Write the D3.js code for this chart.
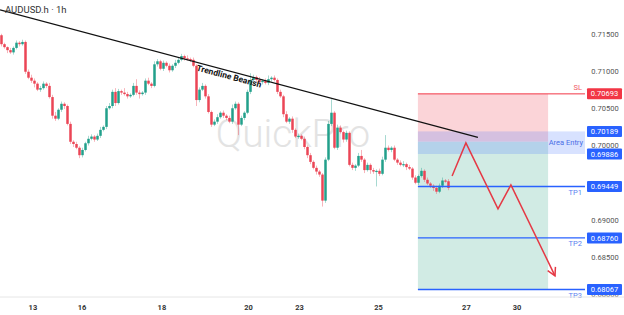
<!DOCTYPE html>
<html>
<head>
<meta charset="utf-8">
<script src="https://cdn.jsdelivr.net/npm/d3@7"></script>
<style>
  body { margin: 0; background: #fff; }
  svg { display: block; font-family: Roboto, "Noto Sans", sans-serif; }
</style>
</head>
<body>
<script>
// hourly candles, open = previous close
const firstOpen = 0.7148
const closes = [
  0.7136, 0.7132, 0.7128, 0.7125, 0.7131, 0.7138, 0.7136, 0.7139, 0.7099, 0.7091,
  0.7087, 0.7083, 0.7075, 0.7077, 0.7083, 0.7080, 0.7065, 0.7040, 0.7036, 0.7048,
  0.7056, 0.7053, 0.7029, 0.7005, 0.7002, 0.6997, 0.6987, 0.6994, 0.7003, 0.7009,
  0.7012, 0.7008, 0.7013, 0.7021, 0.7025, 0.7050, 0.7053, 0.7072, 0.7057, 0.7073,
  0.7071, 0.7069, 0.7066, 0.7068, 0.7080, 0.7071, 0.7069, 0.7071, 0.7087, 0.7083,
  0.7080, 0.7109, 0.7113, 0.7103, 0.7111, 0.7107, 0.7101, 0.7107, 0.7111, 0.7115,
  0.7120, 0.7117, 0.7116, 0.7115, 0.7107, 0.7061, 0.7075, 0.7080, 0.7066, 0.7045,
  0.7028, 0.7032, 0.7038, 0.7044, 0.7040, 0.7037, 0.7032, 0.7050, 0.7056, 0.7028,
  0.7037, 0.7044, 0.7072, 0.7088, 0.7092, 0.7088, 0.7085, 0.7087, 0.7084, 0.7089,
  0.7091, 0.7088, 0.7072, 0.7066, 0.7042, 0.7032, 0.7036, 0.7021, 0.7012, 0.7013,
  0.7009, 0.6998, 0.6987, 0.6978, 0.6970, 0.6965, 0.6961, 0.6926, 0.6981, 0.7029,
  0.7044, 0.6997, 0.7024, 0.7018, 0.7008, 0.7017, 0.6974, 0.6970, 0.6973, 0.6986,
  0.6981, 0.6967, 0.6974, 0.6967, 0.6965, 0.6966, 0.6962, 0.6981, 0.6997, 0.6994,
  0.6997, 0.6981, 0.6977, 0.6974, 0.6975, 0.6971, 0.6969, 0.6957, 0.6950, 0.6959,
  0.6966, 0.6954, 0.6949, 0.6946, 0.6943, 0.6938, 0.6946, 0.6953, 0.6952, 0.6943
]
// wick lengths beyond the body, in units of 0.0001
const wickUp = [
  2, 2, 1, 3, 2, 3, 2, 3, 2, 3,   4, 3, 2, 3, 3, 2, 4, 3, 5, 2,
  3, 2, 2, 3, 2, 3, 2, 3, 2, 4,   3, 2, 3, 4, 2, 3, 4, 3, 5, 3,
  2, 6, 3, 2, 4, 9, 3, 2, 3, 4,   2, 4, 3, 2, 3, 2, 3, 2, 4, 3,
  3, 2, 4, 2, 3, 2, 3, 4, 2, 3,   2, 3, 4, 2, 3, 2, 3, 5, 3, 2,
  3, 2, 3, 9, 3, 2, 4, 2, 3, 5,   2, 3, 2, 3, 2, 4, 2, 3, 2, 3,
  2, 3, 2, 3, 2, 3, 2, 2, 3, 4,  18, 2, 4, 3, 2, 3, 2, 3, 2, 4,
  8, 2, 3, 2, 3, 2, 3, 4, 17, 3,  2, 3, 2, 3, 4, 2, 3, 2, 3, 2,
  4, 2, 3, 2, 2, 3, 3, 4, 2, 3
]
const wickDn = [
  3, 2, 4, 2, 3, 2, 3, 2, 3, 2,   3, 5, 2, 3, 2, 3, 2, 4, 3, 2,
  3, 4, 2, 3, 4, 2, 4, 3, 2, 3,   2, 3, 2, 3, 2, 3, 2, 3, 4, 2,
  3, 2, 3, 2, 2, 3, 6, 2, 3, 2,   3, 2, 3, 2, 3, 2, 3, 2, 3, 2,
  2, 3, 2, 3, 2, 8, 3, 2, 3, 2,   3, 2, 3, 2, 3, 3, 2, 3, 2, 14,
  2, 3, 2, 3, 2, 3, 2, 3, 2, 3,   3, 2, 3, 2, 4, 2, 3, 4, 2, 3,
  2, 3, 4, 3, 2, 4, 3, 8, 3, 2,   3, 2, 3, 2, 4, 3, 2, 3, 4, 2,
  3, 4, 2, 5, 3, 20, 3, 2, 3, 2,  3, 2, 3, 2, 3, 4, 2, 3, 2, 3,
  2, 3, 2, 3, 4, 3, 2, 3, 2, 3
]

const dayLabels = ['13', '16', '18', '20', '23', '25', '27', '30']
const dayIndex = [10.3, 26.7, 53.3, 82.2, 99.2, 125.5, 154.8, 171.7]
const priceTicks = [0.715, 0.71, 0.705, 0.70, 0.695, 0.69, 0.685, 0.68]

// trade setup
const levelNames = ['SL', 'TP1', 'TP2', 'TP3']
const levelPrices = [0.70693, 0.69449, 0.68760, 0.68067]
const entryBand = [0.70189, 0.69886]
const entryPrice = 0.7005
const zoneIdx = [138.8, 182.2, 194.5]   // zone start, zone end, line end

const trendIdx = [-0.5, 158.8]
const trendPx = [0.7182, 0.7011]
const pathIdx = [150.2, 154.8, 165.5, 169.8, 184.5]
const pathPx = [0.6959, 0.70035, 0.6915, 0.6947, 0.6825]

const W = 624, H = 315
const up = '#22a08b', down = '#eb4556', blue = '#2962ff', red = '#f23645'

const x = d3.scaleLinear().domain([-0.5, 207.5]).range([0, W])
const y = d3.scaleLinear().domain([0.68, 0.715]).range([294.5, 33.75])

const svg = d3.select('body').append('svg').attr('width', W).attr('height', H)

// watermark
svg.append('text')
  .attr('x', 293).attr('y', 147)
  .attr('text-anchor', 'middle')
  .attr('font-size', 39).attr('font-weight', 300)
  .attr('fill', '#e3e3e3')
  .text('QuickPro')

// risk / reward zones
const sl = levelPrices[0], tp3 = levelPrices[3]
svg.append('rect')
  .attr('x', x(zoneIdx[0])).attr('y', y(sl))
  .attr('width', x(zoneIdx[1]) - x(zoneIdx[0]))
  .attr('height', y(entryPrice) - y(sl))
  .attr('fill', '#fbd4d8')
svg.append('rect')
  .attr('x', x(zoneIdx[0])).attr('y', y(entryPrice))
  .attr('width', x(zoneIdx[1]) - x(zoneIdx[0]))
  .attr('height', y(tp3) - y(entryPrice))
  .attr('fill', '#d1ebe4')
svg.append('rect')
  .attr('x', x(zoneIdx[0])).attr('y', y(entryBand[0]))
  .attr('width', x(zoneIdx[2]) - x(zoneIdx[0]))
  .attr('height', y(entryBand[1]) - y(entryBand[0]))
  .attr('fill', '#4f7cff').attr('fill-opacity', 0.22)

// candles
const candles = closes.map((c, i) => {
  const o = i ? closes[i - 1] : firstOpen
  return { i, o, c, h: Math.max(o, c) + wickUp[i] * 1e-4, l: Math.min(o, c) - wickDn[i] * 1e-4 }
})
const cg = svg.append('g')
cg.selectAll('line')
  .data(candles)
  .enter().append('line')
    .attr('x1', d => x(d.i)).attr('x2', d => x(d.i))
    .attr('y1', d => y(d.h)).attr('y2', d => y(d.l))
    .attr('stroke', d => d.c >= d.o ? up : down)
    .attr('stroke-opacity', 0.4)
cg.selectAll('rect')
  .data(candles)
  .enter().append('rect')
    .attr('x', d => x(d.i) - 1.25)
    .attr('width', 2.5)
    .attr('y', d => y(Math.max(d.o, d.c)))
    .attr('height', d => Math.max(1.2, Math.abs(y(d.o) - y(d.c))))
    .attr('fill', d => d.c >= d.o ? up : down)

// trendline
svg.append('line')
  .attr('x1', x(trendIdx[0])).attr('y1', y(trendPx[0]))
  .attr('x2', x(trendIdx[1])).attr('y2', y(trendPx[1]))
  .attr('stroke', '#111').attr('stroke-width', 1.3)

const ang = Math.atan2(y(trendPx[1]) - y(trendPx[0]), x(trendIdx[1]) - x(trendIdx[0])) * 180 / Math.PI
const labIdx = 65.5
const labPx = trendPx[0] + (trendPx[1] - trendPx[0]) * (labIdx - trendIdx[0]) / (trendIdx[1] - trendIdx[0])
svg.append('text')
  .attr('transform', `translate(${x(labIdx)},${y(labPx)}) rotate(${ang})`)
  .attr('dy', 8)
  .attr('font-size', 8.5).attr('font-weight', 'bold')
  .attr('fill', '#111')
  .attr('textLength', 67).attr('lengthAdjust', 'spacingAndGlyphs')
  .text('Trendline Bearish')

// level lines
svg.append('g').selectAll('line')
  .data(levelPrices)
  .enter().append('line')
    .attr('x1', x(zoneIdx[0])).attr('x2', x(zoneIdx[2]))
    .attr('y1', d => y(d)).attr('y2', d => y(d))
    .attr('stroke', (d, i) => i ? blue : red)
    .attr('stroke-width', (d, i) => i ? 1.4 : 1)

svg.append('g').selectAll('text')
  .data(levelPrices)
  .enter().append('text')
    .attr('x', x(zoneIdx[2]) - 3)
    .attr('y', (d, i) => i ? y(d) + 8 : y(d) - 4)
    .attr('text-anchor', 'end')
    .attr('font-size', 7.5)
    .attr('fill', (d, i) => i ? '#5a7ff0' : '#ef5a67')
    .text((d, i) => levelNames[i])

svg.append('text')
  .attr('x', x(zoneIdx[2]) - 2).attr('y', y(entryPrice) + 3)
  .attr('text-anchor', 'end')
  .attr('font-size', 7.5)
  .attr('fill', '#4a6fe6')
  .text('Area Entry')

// projected path
const pathLine = d3.line().x(d => x(d[0])).y(d => y(d[1]))
const pts = pathIdx.map((d, i) => [d, pathPx[i]])
svg.append('path')
  .attr('d', pathLine(pts))
  .attr('fill', 'none').attr('stroke', '#e53945').attr('stroke-width', 1.5)
const tip = pts[pts.length - 1], prev = pts[pts.length - 2]
const tx = x(tip[0]), ty = y(tip[1])
const a = Math.atan2(ty - y(prev[1]), tx - x(prev[0]))
const headLen = 9
svg.append('path')
  .attr('d', `M${tx - headLen * Math.cos(a - 0.5)},${ty - headLen * Math.sin(a - 0.5)}L${tx},${ty}L${tx - headLen * Math.cos(a + 0.5)},${ty - headLen * Math.sin(a + 0.5)}`)
  .attr('fill', 'none').attr('stroke', '#e53945').attr('stroke-width', 1.5)

// price scale
const yAxis = svg.append('g')
  .attr('transform', 'translate(587,0)')
  .call(d3.axisRight(y).tickValues(priceTicks).tickFormat(d3.format('.5f')).tickSize(0))
yAxis.select('.domain').remove()
yAxis.selectAll('text').attr('x', 18).attr('text-anchor', 'middle')
  .attr('font-size', 7.5).attr('fill', '#555').attr('font-family', 'Roboto, sans-serif')

// price boxes
const boxPrices = levelPrices.concat(entryBand)
const boxes = svg.append('g').selectAll('g')
  .data(boxPrices)
  .enter().append('g')
    .attr('transform', d => `translate(587,${y(d)})`)
boxes.append('rect')
  .attr('x', 0).attr('y', -5.5).attr('width', 35).attr('height', 11).attr('rx', 1)
  .attr('fill', (d, i) => i ? blue : red)
boxes.append('text')
  .attr('x', 17.5).attr('dy', '0.35em')
  .attr('text-anchor', 'middle')
  .attr('font-size', 7.5).attr('fill', '#fff')
  .text(d => d.toFixed(5))

// time scale
svg.append('line')
  .attr('x1', 0).attr('x2', W).attr('y1', 297).attr('y2', 297)
  .attr('stroke', '#e6e6e6')
const xAxis = svg.append('g')
  .attr('transform', 'translate(0,302)')
  .call(d3.axisBottom(x).tickValues(dayIndex).tickFormat((d, i) => dayLabels[i]).tickSize(0))
xAxis.select('.domain').remove()
xAxis.selectAll('text').attr('font-size', 7.5).attr('font-weight', 'bold').attr('fill', '#333')
  .attr('font-family', 'Roboto, sans-serif')

// title
svg.append('text')
  .attr('x', 5).attr('y', 13)
  .attr('font-size', 9.5).attr('fill', '#333')
  .text('AUDUSD.h · 1h')
</script>
</body>
</html>
